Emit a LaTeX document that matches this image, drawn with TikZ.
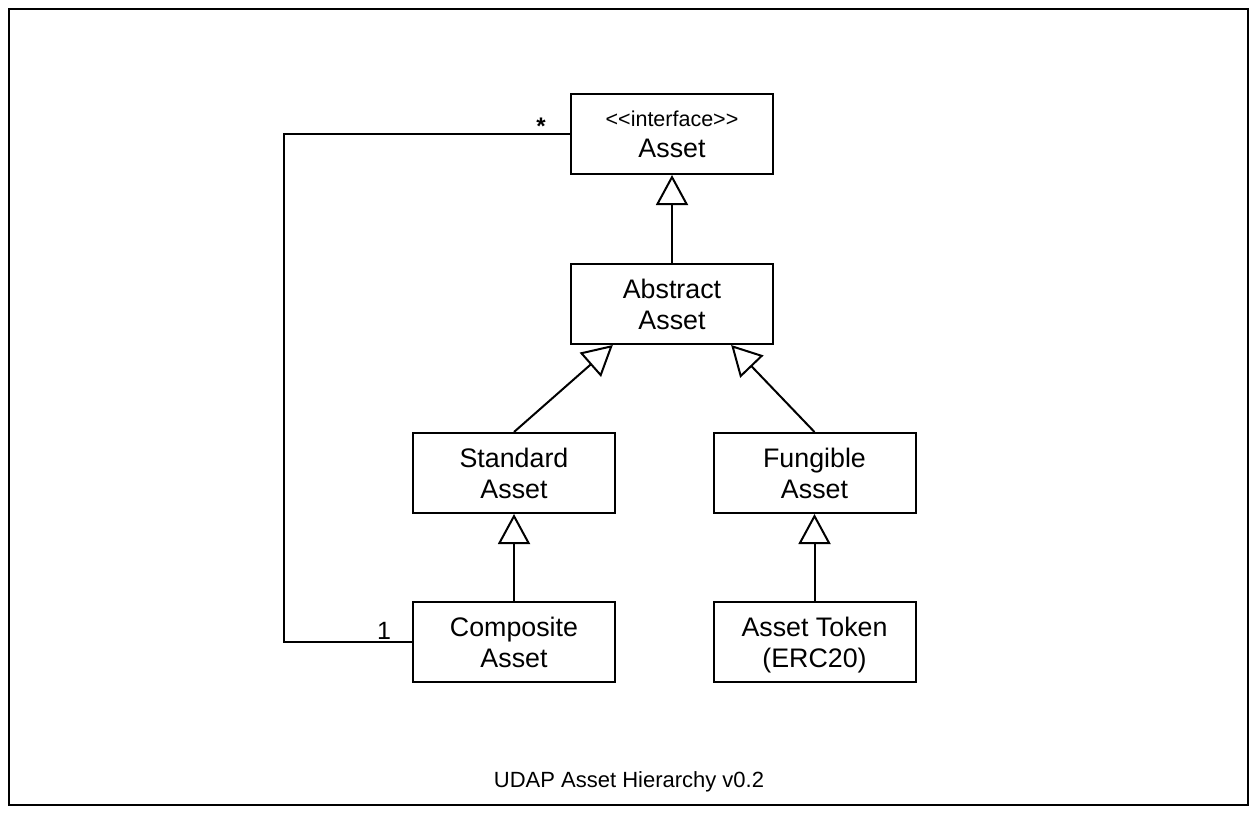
\documentclass[tikz,border=0pt]{standalone}
\usepackage{fontspec}
\newfontfamily\uml{Liberation Sans}
\usetikzlibrary{arrows.meta,calc}
\begin{document}
\begin{tikzpicture}[x=1pt,y=-1pt,
  cls/.style={draw,line width=2pt,minimum width=202pt,minimum height=80pt,align=center,inner sep=0pt,font=\uml\fontsize{26.8}{31}\selectfont},
  inh/.style={line width=2pt,-{Triangle[open,length=30pt,width=32pt,line width=2pt]}},
  lbl/.style={font=\uml\fontsize{23}{26}\selectfont,inner sep=0pt}]
\useasboundingbox (0,0) rectangle (1258,816);
\draw[line width=2.5pt] (9,9) rectangle (1248,805);
\node[cls] (asset) at (672,134) {{\fontsize{21.5}{27}\selectfont <<interface>>}\\Asset};
\node[cls] (abs) at (672,304) {Abstract\\Asset};
\node[cls] (std) at (514,473) {Standard\\Asset};
\node[cls] (fun) at (814.5,473) {Fungible\\Asset};
\node[cls] (comp) at (514,642) {Composite\\Asset};
\node[cls] (tok) at (814.5,642) {Asset Token\\\smash{(ERC20)}};
\coordinate (absL) at ($(abs.south west)!0.21!(abs.south east)$);
\coordinate (absR) at ($(abs.south west)!0.79!(abs.south east)$);
\draw[inh] (abs) -- (asset);
\draw[inh] (std.north) -- (absL);
\draw[inh] (fun.north) -- (absR);
\draw[inh] (comp) -- (std);
\draw[inh] (tok) -- (fun);
\draw[line width=2pt] (comp.west) -- ++(-128,0) |- (asset.west);
\node[lbl,font=\uml\bfseries\fontsize{24}{26}\selectfont] (star) at (541,126) {*};
\node[lbl,font=\uml\fontsize{25}{28}\selectfont] (one) at (384,631) {1};
\node[lbl,font=\uml\fontsize{22}{26}\selectfont] (cap) at (629,782) {UDAP Asset Hierarchy v0.2};
\end{tikzpicture}
\end{document}
